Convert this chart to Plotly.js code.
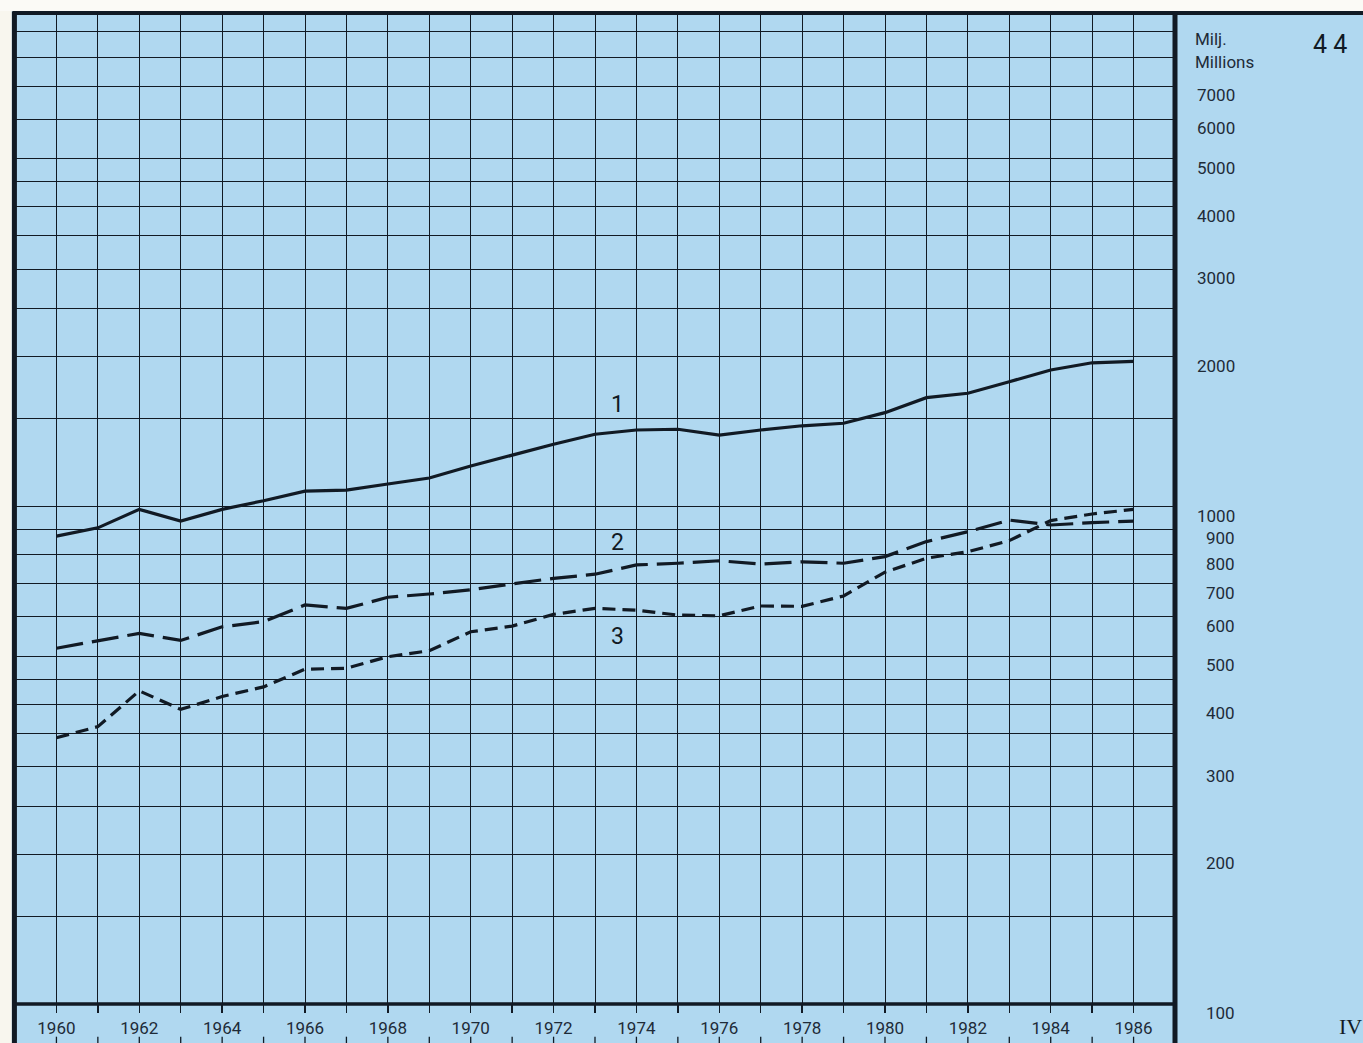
<!DOCTYPE html>
<html>
<head>
<meta charset="utf-8">
<script src="https://cdn.plot.ly/plotly-3.0.1.min.js"></script>
<style>
  html, body { margin: 0; padding: 0; background: #b2d9f0; }
  #chart { width: 1363px; height: 1043px; }
</style>
</head>
<body>
<div id="chart"></div>
<script>
// ---- data ----
const years = [1960,1961,1962,1963,1964,1965,1966,1967,1968,1969,1970,1971,1972,1973,
               1974,1975,1976,1977,1978,1979,1980,1981,1982,1983,1984,1985,1986];
const series1 = [872,906,987,935,987,1027,1074,1079,1110,1141,1206,1269,1334,1397,
                 1425,1430,1392,1425,1453,1470,1544,1655,1689,1782,1881,1945,1958];
const series2 = [519,538,556,538,573,587,634,624,657,667,680,699,717,731,
                 763,769,778,766,774,769,793,850,890,939,918,928,935];
const series3 = [343,361,426,391,415,434,471,473,499,513,560,575,607,624,
                 619,605,603,631,630,661,738,787,811,854,937,966,987];
const seriesNames = ["1", "2", "3"];
const labelYear = 1973.55;
const labelValues = [1607, 845, 547];
const gridValues = [150,200,250,300,350,400,450,500,600,700,800,900,1000,
                    1500,2000,2500,3000,3500,4000,4500,5000,6000,7000,8000,9000];
const rightTickValues = [7000,6000,5000,4000,3000,2000,1000,900,800,700,600,500,400,300,200,100];
const unitLabel1 = "Milj.";
const unitLabel2 = "Millions";
const pageNumber = "4 4";
const sectionLabel = "IV";

// ---- styles ----
const ink = "#111a24";
const textInk = "#1e2b38";
const blue = "#b0d8f0";
const font = "Roboto, 'DejaVu Sans', sans-serif";

const traces = [
  {x: years, y: series1, mode: "lines", line: {color: ink, width: 3.2}, name: seriesNames[0]},
  {x: years, y: series2, mode: "lines", line: {color: ink, width: 3.2, dash: "27px,9px"}, name: seriesNames[1]},
  {x: years, y: series3, mode: "lines", line: {color: ink, width: 3.2, dash: "13px,7px"}, name: seriesNames[2]}
];

const annotations = [];
rightTickValues.forEach(v => {
  annotations.push({x: 1.0534, xref: "paper", y: Math.log10(v), yref: "y",
    text: String(v), showarrow: false, xanchor: "right", yanchor: "middle", yshift: -9,
    font: {family: font, size: 17, color: textInk}});
});
seriesNames.forEach((n, i) => {
  annotations.push({x: labelYear, xref: "x", y: Math.log10(labelValues[i]), yref: "y",
    text: n, showarrow: false, xanchor: "center", yanchor: "middle",
    font: {family: font, size: 23, color: ink}});
});
annotations.push({x: 1.0155, xref: "paper", y: 0.9735, yref: "paper", text: unitLabel1,
  showarrow: false, xanchor: "left", yanchor: "middle", font: {family: font, size: 17, color: textInk}});
annotations.push({x: 1.0155, xref: "paper", y: 0.951, yref: "paper", text: unitLabel2,
  showarrow: false, xanchor: "left", yanchor: "middle", font: {family: font, size: 17, color: textInk}});
annotations.push({x: 1.1336, xref: "paper", y: 0.968, yref: "paper", text: pageNumber,
  showarrow: false, xanchor: "center", yanchor: "middle", font: {family: font, size: 25, color: ink}});
annotations.push({x: 1.151, xref: "paper", y: -0.023, yref: "paper", text: sectionLabel,
  showarrow: false, xanchor: "center", yanchor: "middle", font: {family: "'Liberation Serif', serif", size: 22, color: ink}});

const shapes = [];
// white page edge strips
shapes.push({type: "rect", xref: "paper", yref: "paper", x0: -0.02, x1: -0.0028, y0: -0.05, y1: 1.03,
  fillcolor: "#f8f6ee", line: {width: 0}, layer: "above"});
shapes.push({type: "rect", xref: "paper", yref: "paper", x0: -0.02, x1: 1.2, y0: 1.002, y1: 1.03,
  fillcolor: "#fbfaf6", line: {width: 0}, layer: "above"});
// frame
shapes.push({type: "line", xref: "paper", yref: "paper", x0: -0.002, x1: 1.2, y0: 1.0, y1: 1.0,
  line: {color: ink, width: 4}, layer: "above"});
shapes.push({type: "line", xref: "paper", yref: "paper", x0: -0.0005, x1: -0.0005, y0: -0.05, y1: 1.0015,
  line: {color: ink, width: 5}, layer: "above"});
shapes.push({type: "line", xref: "paper", yref: "paper", x0: 1.0, x1: 1.0, y0: -0.05, y1: 1.0015,
  line: {color: ink, width: 5}, layer: "above"});
shapes.push({type: "line", xref: "paper", yref: "paper", x0: 0, x1: 1, y0: 0, y1: 0,
  line: {color: ink, width: 3.5}, layer: "above"});
// lower tick marks under the year labels
years.forEach(yr => {
  shapes.push({type: "line", xref: "x", yref: "paper", x0: yr, x1: yr, y0: -0.033, y1: -0.045,
    line: {color: ink, width: 1.3}});
});

const layout = {
  width: 1363, height: 1043,
  margin: {l: 15, r: 188, t: 13, b: 39, pad: 0},
  paper_bgcolor: blue, plot_bgcolor: blue,
  showlegend: false,
  xaxis: {
    range: [1959, 1987], tickvals: years,
    ticktext: years.map(y => (y % 2 === 0 ? String(y) : "")),
    ticks: "outside", ticklen: 8, tickwidth: 1.3, tickcolor: ink,
    showgrid: true, gridcolor: ink, gridwidth: 1, zeroline: false, showline: false,
    tickfont: {family: font, size: 17, color: textInk}, ticklabelstandoff: 1
  },
  yaxis: {
    type: "log", range: [2, 3.992], tickvals: gridValues, showticklabels: false,
    ticks: "", showgrid: true, gridcolor: ink, gridwidth: 1, zeroline: false, showline: false
  },
  annotations: annotations,
  shapes: shapes
};

Plotly.newPlot("chart", traces, layout, {displayModeBar: false, staticPlot: true});
</script>
</body>
</html>
